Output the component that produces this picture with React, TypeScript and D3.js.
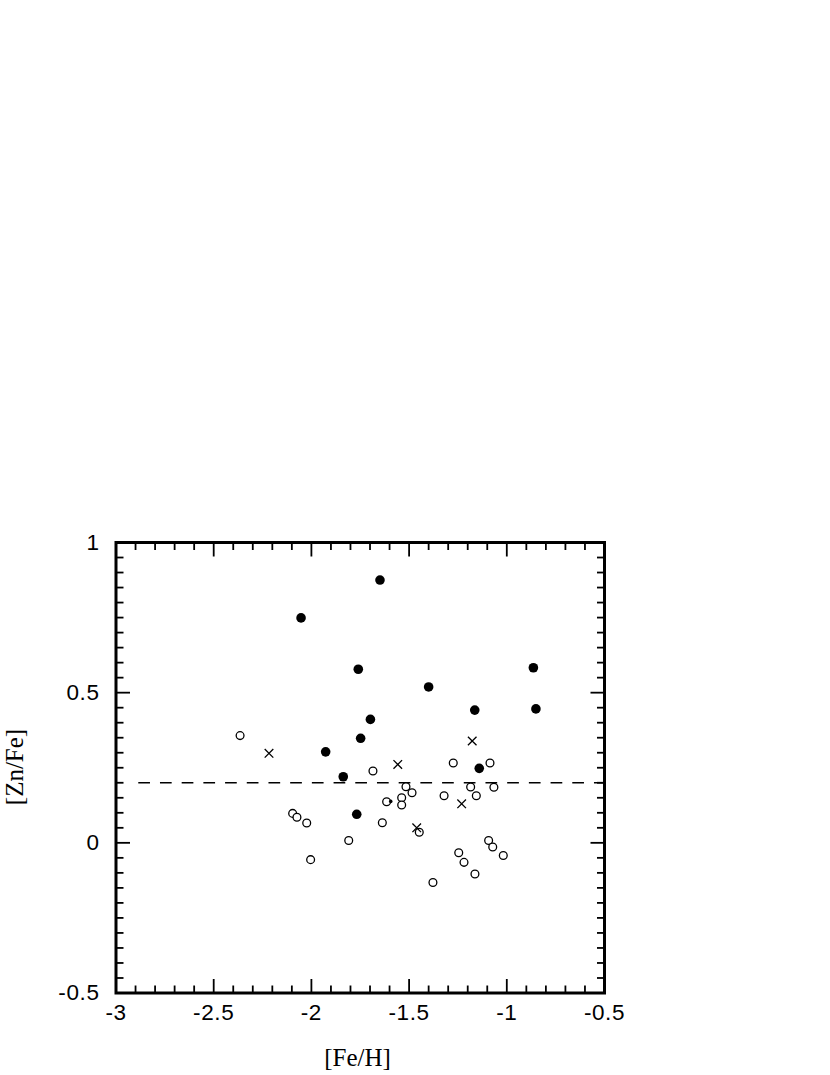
import React from "react";
import * as d3 from "d3";

// [Fe/H], [Zn/Fe]
const filledX = [-2.053, -1.649, -1.760, -1.400, -0.864, -0.851, -1.164, -1.698, -1.748, -1.927, -1.837, -1.141, -1.768];
const filledY = [0.749, 0.875, 0.578, 0.519, 0.583, 0.446, 0.442, 0.411, 0.348, 0.303, 0.220, 0.248, 0.095];

const crossX = [-2.217, -1.558, -1.177, -1.231, -1.461];
const crossY = [0.298, 0.261, 0.339, 0.130, 0.050];

const openX = [-2.365, -2.096, -2.074, -2.024, -2.004, -1.809, -1.685, -1.637, -1.615, -1.538, -1.538, -1.516, -1.485, -1.448,
  -1.378, -1.321, -1.274, -1.246, -1.219, -1.185, -1.156, -1.163, -1.093, -1.072, -1.018, -1.086, -1.066];
const openY = [0.357, 0.098, 0.085, 0.066, -0.056, 0.008, 0.239, 0.067, 0.137, 0.150, 0.126, 0.187, 0.167, 0.035,
  -0.132, 0.157, 0.266, -0.033, -0.065, 0.186, 0.157, -0.104, 0.008, -0.014, -0.042, 0.266, 0.185];

const dotX = [-1.594];
const dotY = [0.138];

const refLevel = 0.2;
const refStart = -2.886;

const xTicks = [-3, -2.5, -2, -1.5, -1, -0.5];
const xTickLabels = ["-3", "-2.5", "-2", "-1.5", "-1", "-0.5"];
const yTicks = [-0.5, 0, 0.5, 1];
const yTickLabels = ["-0.5", "0", "0.5", "1"];

const xDomain: [number, number] = [-3, -0.5];
const yDomain: [number, number] = [-0.5, 1];

export default function App() {
  const left = 116, right = 604.5, top = 542.5, bottom = 993;
  const x = d3.scaleLinear().domain(xDomain).range([left, right]);
  const y = d3.scaleLinear().domain(yDomain).range([bottom, top]);

  const xMinor = d3.range(-3, -0.5 + 1e-9, 0.1).map((v) => +v.toFixed(2));
  const yMinor = d3.range(-0.5, 1 + 1e-9, 0.05).map((v) => +v.toFixed(2));
  const isMajor = (v: number) => Math.abs(v * 2 - Math.round(v * 2)) < 1e-6;

  const minorLen = 7.5, majorLen = 14;
  const tickStroke = 1.8;

  const crossPath = (cx: number, cy: number, s: number) =>
    `M${cx - s},${cy - s}L${cx + s},${cy + s}M${cx - s},${cy + s}L${cx + s},${cy - s}`;

  const sans = "'Liberation Sans', Arial, Helvetica, sans-serif";
  const serif = "'Liberation Serif', 'Times New Roman', serif";

  return (
    <svg width={830} height={1075} style={{ position: "absolute", left: 0, top: 0, background: "#fff" }}>
      <rect x={0} y={0} width={830} height={1075} fill="#fff" />
      {/* ticks */}
      <g stroke="#000" strokeWidth={tickStroke}>
        {xMinor.map((v, i) => {
          const L = isMajor(v) ? majorLen : minorLen;
          return (
            <g key={"xt" + i}>
              <line x1={x(v)} x2={x(v)} y1={bottom} y2={bottom - L} />
              <line x1={x(v)} x2={x(v)} y1={top} y2={top + L} />
            </g>
          );
        })}
        {yMinor.map((v, i) => {
          const L = isMajor(v) ? majorLen : minorLen;
          return (
            <g key={"yt" + i}>
              <line x1={left} x2={left + L} y1={y(v)} y2={y(v)} />
              <line x1={right} x2={right - L} y1={y(v)} y2={y(v)} />
            </g>
          );
        })}
      </g>
      {/* frame */}
      <rect x={left} y={top} width={right - left} height={bottom - top} fill="none" stroke="#000" strokeWidth={3} />
      {/* reference line */}
      <line x1={x(refStart)} x2={x(-0.5)} y1={y(refLevel)} y2={y(refLevel)} stroke="#000" strokeWidth={1.5} strokeDasharray="11.7 10" />
      {/* open circles */}
      {openX.map((v, i) => (
        <circle key={"o" + i} cx={x(v)} cy={y(openY[i])} r={3.9} fill="#fff" stroke="#000" strokeWidth={1.3} />
      ))}
      {/* crosses */}
      {crossX.map((v, i) => (
        <path key={"c" + i} d={crossPath(x(v), y(crossY[i]), 4.3)} stroke="#000" strokeWidth={1.3} fill="none" />
      ))}
      {/* filled circles */}
      {filledX.map((v, i) => (
        <circle key={"f" + i} cx={x(v)} cy={y(filledY[i])} r={4.8} fill="#000" />
      ))}
      {dotX.map((v, i) => (
        <circle key={"d" + i} cx={x(v)} cy={y(dotY[i])} r={1.8} fill="#000" />
      ))}
      {/* tick labels */}
      {xTicks.map((v, i) => (
        <text key={"xl" + i} x={x(v)} y={bottom + 26.5} textAnchor="middle" letterSpacing={0.6}
          style={{ fontFamily: sans, fontSize: "22.5px" }} fill="#000">
          {xTickLabels[i]}
        </text>
      ))}
      {yTicks.map((v, i) => (
        <text key={"yl" + i} x={99.5} y={y(v) + 7} textAnchor="end" letterSpacing={0.6}
          style={{ fontFamily: sans, fontSize: "22.5px" }} fill="#000">
          {yTickLabels[i]}
        </text>
      ))}
      {/* axis titles */}
      <text x={357.5} y={1066} textAnchor="middle" style={{ fontFamily: serif, fontSize: "25px" }} fill="#000">
        [Fe/H]
      </text>
      <text transform={`translate(23,767) rotate(-90)`} textAnchor="middle"
        style={{ fontFamily: serif, fontSize: "25px" }} fill="#000">
        [Zn/Fe]
      </text>
    </svg>
  );
}
